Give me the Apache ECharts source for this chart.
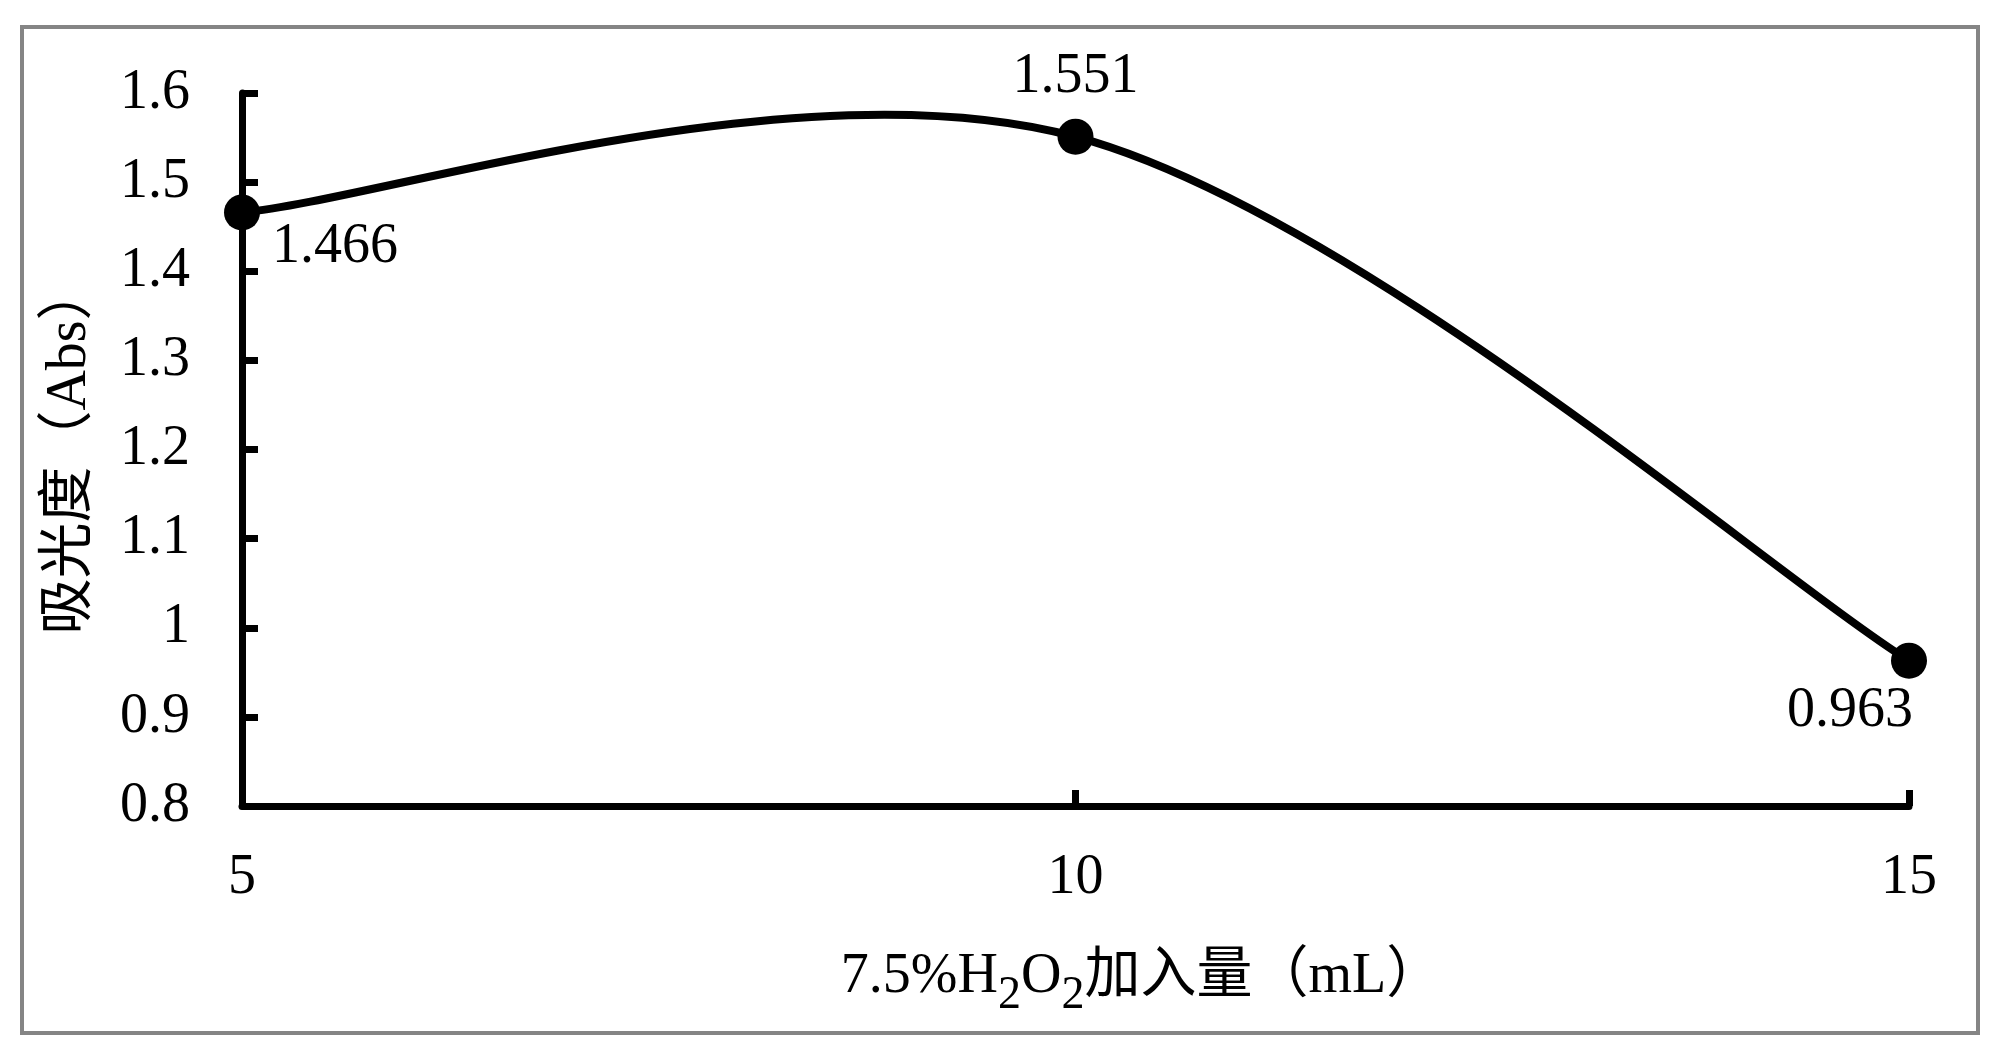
<!DOCTYPE html>
<html>
<head>
<meta charset="utf-8">
<script src="https://cdn.jsdelivr.net/npm/echarts@6/dist/echarts.min.js"></script>
<style>
  html, body { margin: 0; padding: 0; background: #fff; }
  #chart { width: 2000px; height: 1064px; }
</style>
</head>
<body>
<div id="chart"></div>
<script>
// H2O2 added (mL) and absorbance
var xValues = [5, 10, 15];
var absValues = [1.466, 1.551, 0.963];
var labelOffsets = [[93, 35], [0, -59], [-59, 51]];

var serif = '"Times New Roman", "Liberation Serif", "Noto Sans CJK SC", serif';

var myChart = echarts.init(document.getElementById('chart'));

var points = xValues.map(function (x, i) {
  return {
    value: [x, absValues[i]],
    label: { offset: labelOffsets[i] }
  };
});

// excel-like smoothed line (catmull-rom), one bezier segment per point pair
function renderCurve(params, api) {
  var i = params.dataIndex;
  var n = xValues.length;
  if (i >= n - 1) return;
  var pts = xValues.map(function (x, k) { return api.coord([x, absValues[k]]); });
  var p0 = pts[Math.max(i - 1, 0)], p1 = pts[i], p2 = pts[i + 1], p3 = pts[Math.min(i + 2, n - 1)];
  return {
    type: 'bezierCurve',
    shape: {
      x1: p1[0], y1: p1[1], x2: p2[0], y2: p2[1],
      cpx1: p1[0] + (p2[0] - p0[0]) / 6, cpy1: p1[1] + (p2[1] - p0[1]) / 6,
      cpx2: p2[0] - (p3[0] - p1[0]) / 6, cpy2: p2[1] - (p3[1] - p1[1]) / 6
    },
    style: { stroke: '#000', lineWidth: 8, fill: null }
  };
}

var option = {
  backgroundColor: '#fff',
  animation: false,
  graphic: [{
    type: 'rect',
    shape: { x: 22, y: 27, width: 1956, height: 1006 },
    style: { fill: 'none', stroke: '#858585', lineWidth: 4 },
    silent: true
  }],
  grid: { left: 242, right: 91, top: 93, bottom: 258 },
  xAxis: {
    type: 'value',
    min: 5, max: 15, interval: 5,
    name: '7.5%H{sub|2}O{sub|2}加入量（mL）',
    nameLocation: 'middle',
    nameGap: 129,
    nameTextStyle: {
      fontFamily: serif, fontSize: 56, color: '#000', lineHeight: 84,
      padding: [0, 0, 0, 132],
      rich: { sub: { fontFamily: serif, fontSize: 46, lineHeight: 46, verticalAlign: 'bottom', color: '#000' } }
    },
    axisLine: { lineStyle: { color: '#000', width: 7 } },
    axisTick: { inside: true, length: 16, lineStyle: { color: '#000', width: 7 } },
    axisLabel: { fontFamily: serif, fontSize: 56, color: '#000', margin: 44 },
    splitLine: { show: false }
  },
  yAxis: {
    type: 'value',
    min: 0.8, max: 1.6, interval: 0.1,
    name: '吸光度（Abs）',
    nameLocation: 'middle',
    nameGap: 144,
    nameTextStyle: { fontFamily: serif, fontSize: 56, color: '#000' },
    axisLine: { show: true, lineStyle: { color: '#000', width: 7 } },
    axisTick: { show: true, inside: true, length: 16, lineStyle: { color: '#000', width: 7 } },
    axisLabel: {
      fontFamily: serif, fontSize: 56, color: '#000', margin: 52,
      formatter: function (v) { return String(Math.round(v * 10) / 10); }
    },
    splitLine: { show: false }
  },
  series: [{
    type: 'custom',
    data: xValues.map(function (x, i) { return [x, absValues[i]]; }),
    renderItem: renderCurve,
    silent: true,
    z: 1
  }, {
    type: 'line',
    data: points,
    symbol: 'circle',
    symbolSize: 36,
    itemStyle: { color: '#000' },
    lineStyle: { opacity: 0 },
    z: 3,
    label: {
      show: true,
      position: 'inside',
      fontFamily: serif, fontSize: 56, color: '#000',
      formatter: function (p) { return p.value[1].toFixed(3); }
    }
  }]
};

myChart.setOption(option);
</script>
</body>
</html>
